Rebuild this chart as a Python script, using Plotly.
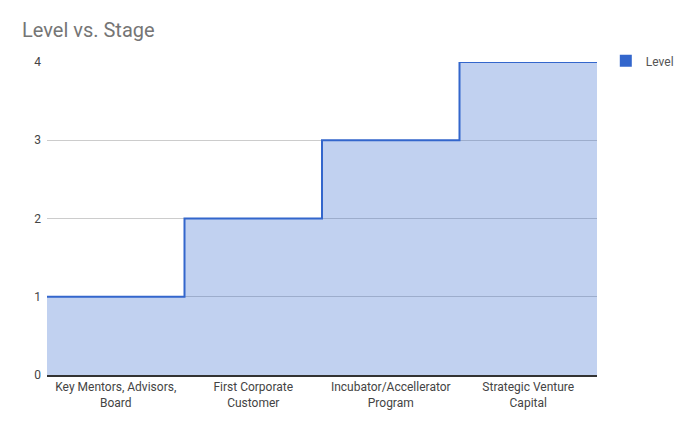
import plotly.graph_objs as go

# Data
stages = ["Key Mentors, Advisors,<br>Board", "First Corporate<br>Customer",
          "Incubator/Accellerator<br>Program", "Strategic Venture<br>Capital"]
levels = [1, 2, 3, 4]
y_ticks = [0, 1, 2, 3, 4]

# step edges: each category occupies one unit of the x axis
x_edges = list(range(len(stages) + 1))
y_steps = levels + [levels[-1]]

BLUE = "#3366cc"

fig = go.Figure()
fig.add_trace(go.Scatter(
    x=x_edges, y=y_steps, mode="lines", line=dict(color=BLUE, width=2, shape="hv"),
    fill="tozeroy", fillcolor="rgba(51,102,204,0.3)", showlegend=False, hoverinfo="skip",
))
# legend swatch only
fig.add_trace(go.Scatter(
    x=[None], y=[None], mode="markers", name="Level",
    marker=dict(symbol="square", size=12, color=BLUE),
))

fig.update_layout(
    width=689, height=426,
    margin=dict(l=47, r=92, t=62, b=51, autoexpand=False),
    paper_bgcolor="white", plot_bgcolor="white",
    font=dict(family="Roboto", size=12, color="#444"),
    title=dict(text="Level vs. Stage", x=22 / 689, xanchor="left", y=1 - 30 / 426, yanchor="middle",
               font=dict(family="Roboto", size=20, color="#757575")),
    legend=dict(x=1.016, y=1.05, xanchor="left", yanchor="top", font=dict(size=12, color="#555"),
                itemwidth=30),
    xaxis=dict(range=[0, len(stages)], tickvals=[i + 0.5 for i in range(len(stages))], ticktext=stages,
               showgrid=False, zeroline=False, showline=True, linecolor="#333", linewidth=1.5,
               ticks="", tickfont=dict(size=12, color="#444")),
    yaxis=dict(range=[0, 4], tickvals=y_ticks, showgrid=True, gridcolor="#cccccc", zeroline=False,
               ticks="", ticklabelstandoff=5, tickfont=dict(size=12, color="#444"), fixedrange=True),
)

fig.write_html("out.html", config={"displayModeBar": False},
               post_script="document.body.style.margin='0';")
